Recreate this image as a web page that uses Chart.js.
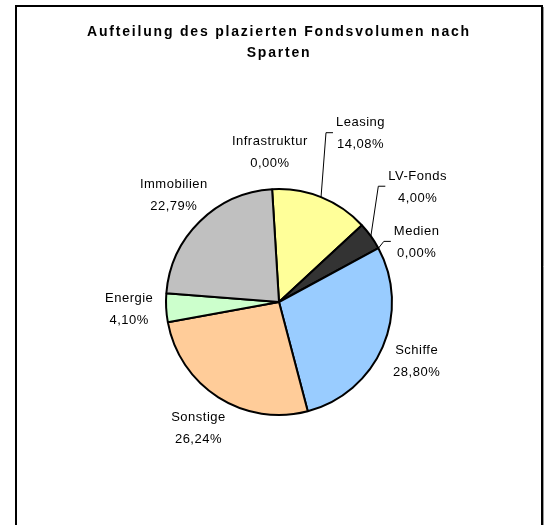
<!DOCTYPE html>
<html>
<head>
<meta charset="utf-8">
<script src="https://cdn.jsdelivr.net/npm/chart.js@4/dist/chart.umd.min.js"></script>
<style>
  html, body { margin: 0; padding: 0; background: #fff; }
  #wrap { width: 553px; height: 525px; position: relative; }
</style>
</head>
<body>
<div id="wrap"><canvas id="chart" width="553" height="525"></canvas></div>
<script>
const titleLines = ['Aufteilung des plazierten Fondsvolumen nach', 'Sparten'];
const sparten = ['Leasing', 'LV-Fonds', 'Medien', 'Schiffe', 'Sonstige', 'Energie', 'Immobilien', 'Infrastruktur'];
const anteile = [14.08, 4.00, 0.00, 28.80, 26.24, 4.10, 22.79, 0.00];
const farben = ['#FFFF99', '#333333', '#9999FF', '#99CCFF', '#FFCC99', '#CCFFCC', '#C0C0C0', '#FFFFCC'];

// labels that sit further out get a leader line back to the slice
const labelLayout = {
    'Leasing':  { push: 37, turn: 4, leader: true },
    'LV-Fonds': { push: 30, turn: -4, leader: true },
    'Medien':   { push: 0, turn: 5, leader: true }
};

function formatProzent(v) {
    return v.toFixed(2).replace('.', ',') + '%';
}

const framePlugin = {
    id: 'frame',
    beforeDraw(chart) {
        const ctx = chart.ctx;
        ctx.save();
        ctx.fillStyle = '#fff';
        ctx.fillRect(0, 0, chart.width, chart.height);

        ctx.strokeStyle = '#000';
        ctx.lineWidth = 2;
        ctx.beginPath();
        ctx.moveTo(16, 530);
        ctx.lineTo(16, 6);
        ctx.lineTo(542, 6);
        ctx.lineTo(542, 530);
        ctx.stroke();
        ctx.strokeStyle = '#999';
        ctx.lineWidth = 1;
        ctx.beginPath();
        ctx.moveTo(543.5, 7);
        ctx.lineTo(543.5, 530);
        ctx.stroke();

        ctx.fillStyle = '#000';
        ctx.font = 'bold 14px "Liberation Sans", Arial, sans-serif';
        ctx.letterSpacing = '1.8px';
        ctx.textAlign = 'center';
        ctx.textBaseline = 'middle';
        titleLines.forEach(function (line, i) {
            ctx.fillText(line, 279, 32 + i * 21);
        });
        ctx.restore();
    }
};

const labelPlugin = {
    id: 'sliceLabels',
    afterDatasetsDraw(chart) {
        const ctx = chart.ctx;
        const meta = chart.getDatasetMeta(0);
        ctx.save();
        ctx.font = '13px "Liberation Sans", Arial, sans-serif';
        ctx.letterSpacing = '0.5px';
        ctx.fillStyle = '#000';
        ctx.strokeStyle = '#000';
        ctx.lineWidth = 1;
        ctx.textAlign = 'center';
        ctx.textBaseline = 'middle';

        meta.data.forEach(function (arc, i) {
            const name = sparten[i];
            const layout = labelLayout[name] || { push: 0, turn: 0, leader: false };
            const mid = (arc.startAngle + arc.endAngle) / 2;
            const a = mid + layout.turn * Math.PI / 180;
            const dist = arc.outerRadius + 37 + layout.push;
            const cx = arc.x + Math.cos(a) * dist;
            const cy = arc.y + Math.sin(a) * dist;
            const lines = [name, formatProzent(anteile[i])];

            if (layout.leader) {
                const w = Math.max.apply(null, lines.map(function (t) { return ctx.measureText(t).width; }));
                const left = cx - w / 2;
                const sx = arc.x + Math.cos(mid) * arc.outerRadius;
                const sy = arc.y + Math.sin(mid) * arc.outerRadius;
                ctx.beginPath();
                ctx.moveTo(sx, sy);
                ctx.lineTo(left - 10, cy - 1);
                ctx.lineTo(left - 3, cy - 1);
                ctx.stroke();
            }

            ctx.fillText(lines[0], cx, cy - 11);
            ctx.fillText(lines[1], cx, cy + 11);
        });
        ctx.restore();
    }
};

new Chart(document.getElementById('chart'), {
    type: 'pie',
    data: {
        labels: sparten,
        datasets: [
            {
                data: anteile,
                backgroundColor: farben,
                borderColor: '#000',
                borderWidth: 2
            }
        ]
    },
    options: {
        responsive: false,
        animation: false,
        rotation: -3.5,
        layout: {
            padding: { left: 165, right: 160, top: 188, bottom: 109 }
        },
        plugins: {
            legend: { display: false },
            tooltip: { enabled: false },
            title: { display: false }
        }
    },
    plugins: [framePlugin, labelPlugin]
});
</script>
</body>
</html>
